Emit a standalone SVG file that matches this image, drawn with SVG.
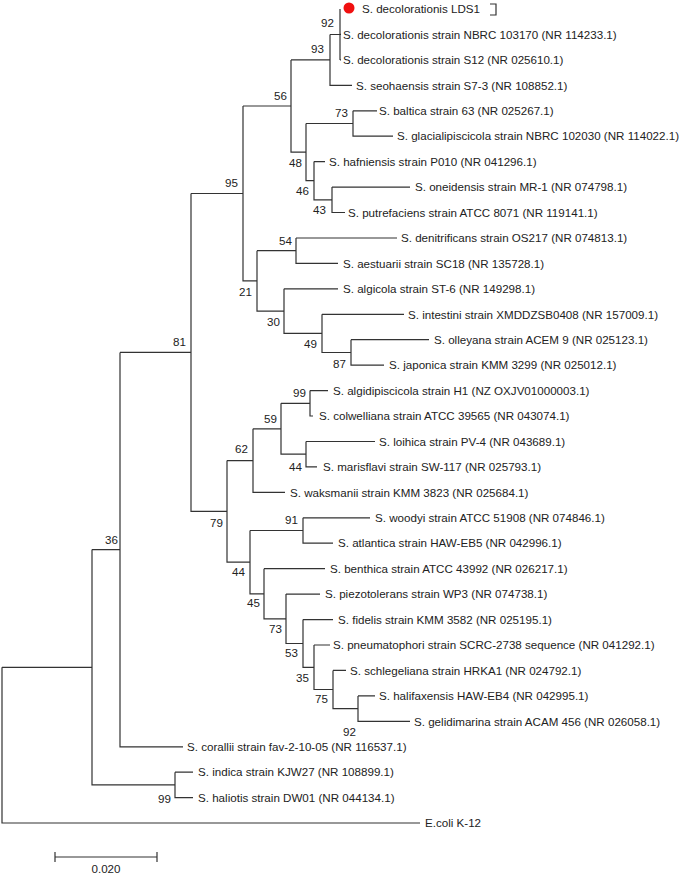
<svg xmlns="http://www.w3.org/2000/svg" width="684" height="875" viewBox="0 0 684 875">
<style>
.br{fill:none;stroke:#333;stroke-width:1.2}
text{font-family:"Liberation Sans",Arial,sans-serif;font-size:11.6px;fill:#222}
.bs{text-anchor:end}
</style>
<rect width="684" height="875" fill="#fff"/>
<g id="connectors">
<path class="br" d="M340,9 V59.9 M340,34.4 H341 M340,59.9 H341"/>
<path class="br" d="M330,34.5 V85.3 H352 M330,34.5 H340"/>
<path class="br" d="M353,110.8 V136.2 H393 M353,110.8 H377"/>
<path class="br" d="M332,187.1 V212.5 H345 M332,187.1 H410"/>
<path class="br" d="M314,161.6 V199.8 H332 M314,161.6 H325"/>
<path class="br" d="M306,123.5 V180.7 H314 M306,123.5 H353"/>
<path class="br" d="M291,59.9 V152.1 H306 M291,59.9 H330"/>
<path class="br" d="M296,238 V263.4 H338 M296,238 H397"/>
<path class="br" d="M351,339.7 V365.2 H384 M351,339.7 H429"/>
<path class="br" d="M322,314.3 V352.5 H351 M322,314.3 H404"/>
<path class="br" d="M284,288.8 V333.4 H322 M284,288.8 H338"/>
<path class="br" d="M257,250.7 V311.1 H284 M257,250.7 H296"/>
<path class="br" d="M243,106 V280.9 H257 M243,106 H291"/>
<path class="br" d="M310,390.6 V416 H313 M310,390.6 H328"/>
<path class="br" d="M306,441.5 V466.9 H317 M306,441.5 H375"/>
<path class="br" d="M281,403.3 V454.2 H306 M281,403.3 H310"/>
<path class="br" d="M253,428.8 V492.4 H285 M253,428.8 H281"/>
<path class="br" d="M303,517.8 V543.2 H333 M303,517.8 H370"/>
<path class="br" d="M358,695.9 V721.3 H410 M358,695.9 H375"/>
<path class="br" d="M333,670.4 V708.6 H358 M333,670.4 H346"/>
<path class="br" d="M314,645 V689.5 H333 M314,645 H330"/>
<path class="br" d="M303,619.6 V667.3 H314 M303,619.6 H333"/>
<path class="br" d="M286,594.1 V643.5 H303 M286,594.1 H320"/>
<path class="br" d="M264,568.7 V618.8 H286 M264,568.7 H325"/>
<path class="br" d="M250,530.5 V593.8 H264 M250,530.5 H303"/>
<path class="br" d="M227,460.6 V562.1 H250 M227,460.6 H253"/>
<path class="br" d="M191,193.5 V511.4 H227 M191,193.5 H243"/>
<path class="br" d="M120,352.4 V746.8 H183 M120,352.4 H191"/>
<path class="br" d="M175,772.2 V797.6 H193 M175,772.2 H193"/>
<path class="br" d="M92,549.6 V784.9 H175 M92,549.6 H120"/>
<path class="br" d="M2,667.3 V823 H420 M2,667.3 H92"/>
</g>
<g id="leaves">
<g id="leaf-LDS1"><circle cx="349" cy="8" r="5.5" fill="#f01010"/><text x="362" y="13">S. decolorationis LDS1</text><path class="br" d="M490,4 H496 V15 H490"/></g>
<g id="leaf-NBRC103170"><text x="343" y="38.6">S. decolorationis strain NBRC 103170 (NR 114233.1)</text></g>
<g id="leaf-S12"><text x="343" y="64.1">S. decolorationis strain S12 (NR 025610.1)</text></g>
<g id="leaf-seohaensis"><text x="356" y="89.5">S. seohaensis strain S7-3 (NR 108852.1)</text></g>
<g id="leaf-baltica"><text x="379" y="115">S. baltica strain 63 (NR 025267.1)</text></g>
<g id="leaf-glacialipiscicola"><text x="397" y="140.4">S. glacialipiscicola strain NBRC 102030 (NR 114022.1)</text></g>
<g id="leaf-hafniensis"><text x="329" y="165.8">S. hafniensis strain P010 (NR 041296.1)</text></g>
<g id="leaf-oneidensis"><text x="415" y="191.3">S. oneidensis strain MR-1 (NR 074798.1)</text></g>
<g id="leaf-putrefaciens"><text x="348" y="216.7">S. putrefaciens strain ATCC 8071 (NR 119141.1)</text></g>
<g id="leaf-denitrificans"><text x="401" y="242.2">S. denitrificans strain OS217 (NR 074813.1)</text></g>
<g id="leaf-aestuarii"><text x="343" y="267.6">S. aestuarii strain SC18 (NR 135728.1)</text></g>
<g id="leaf-algicola"><text x="343" y="293">S. algicola strain ST-6 (NR 149298.1)</text></g>
<g id="leaf-intestini"><text x="408" y="318.5">S. intestini strain XMDDZSB0408 (NR 157009.1)</text></g>
<g id="leaf-olleyana"><text x="434" y="343.9">S. olleyana strain ACEM 9 (NR 025123.1)</text></g>
<g id="leaf-japonica"><text x="389" y="369.4">S. japonica strain KMM 3299 (NR 025012.1)</text></g>
<g id="leaf-algidipiscicola"><text x="333" y="394.8">S. algidipiscicola strain H1 (NZ OXJV01000003.1)</text></g>
<g id="leaf-colwelliana"><text x="319" y="420.2">S. colwelliana strain ATCC 39565 (NR 043074.1)</text></g>
<g id="leaf-loihica"><text x="379" y="445.7">S. loihica strain PV-4 (NR 043689.1)</text></g>
<g id="leaf-marisflavi"><text x="323" y="471.1">S. marisflavi strain SW-117 (NR 025793.1)</text></g>
<g id="leaf-waksmanii"><text x="290" y="496.6">S. waksmanii strain KMM 3823 (NR 025684.1)</text></g>
<g id="leaf-woodyi"><text x="375" y="522">S. woodyi strain ATCC 51908 (NR 074846.1)</text></g>
<g id="leaf-atlantica"><text x="338" y="547.4">S. atlantica strain HAW-EB5 (NR 042996.1)</text></g>
<g id="leaf-benthica"><text x="330" y="572.9">S. benthica strain ATCC 43992 (NR 026217.1)</text></g>
<g id="leaf-piezotolerans"><text x="325" y="598.3">S. piezotolerans strain WP3 (NR 074738.1)</text></g>
<g id="leaf-fidelis"><text x="338" y="623.8">S. fidelis strain KMM 3582 (NR 025195.1)</text></g>
<g id="leaf-pneumatophori"><text x="333" y="649.2">S. pneumatophori strain SCRC-2738 sequence (NR 041292.1)</text></g>
<g id="leaf-schlegeliana"><text x="350" y="674.6">S. schlegeliana strain HRKA1 (NR 024792.1)</text></g>
<g id="leaf-halifaxensis"><text x="379" y="700.1">S. halifaxensis HAW-EB4 (NR 042995.1)</text></g>
<g id="leaf-gelidimarina"><text x="414" y="725.5">S. gelidimarina strain ACAM 456 (NR 026058.1)</text></g>
<g id="leaf-corallii"><text x="187" y="751">S. corallii strain fav-2-10-05 (NR 116537.1)</text></g>
<g id="leaf-indica"><text x="198" y="776.4">S. indica strain KJW27 (NR 108899.1)</text></g>
<g id="leaf-haliotis"><text x="198" y="801.8">S. haliotis strain DW01 (NR 044134.1)</text></g>
<g id="leaf-ecoli"><text x="425" y="827.2">E.coli K-12</text></g>
</g>
<g id="bootstrap">
<g id="n92a"><text class="bs" x="334" y="27">92</text></g>
<g id="n93"><text class="bs" x="324" y="53">93</text></g>
<g id="n56"><text class="bs" x="287" y="100">56</text></g>
<g id="n73a"><text class="bs" x="348" y="117">73</text></g>
<g id="n48"><text class="bs" x="302" y="167">48</text></g>
<g id="n46"><text class="bs" x="309" y="195">46</text></g>
<g id="n43"><text class="bs" x="326" y="214">43</text></g>
<g id="n95"><text class="bs" x="238" y="187">95</text></g>
<g id="n81"><text class="bs" x="186" y="346">81</text></g>
<g id="n54"><text class="bs" x="292" y="245">54</text></g>
<g id="n21"><text class="bs" x="252" y="296">21</text></g>
<g id="n30"><text class="bs" x="280" y="326">30</text></g>
<g id="n49"><text class="bs" x="317" y="348">49</text></g>
<g id="n87"><text class="bs" x="346" y="368">87</text></g>
<g id="n99a"><text class="bs" x="306" y="397">99</text></g>
<g id="n59"><text class="bs" x="277" y="423">59</text></g>
<g id="n62"><text class="bs" x="248" y="453">62</text></g>
<g id="n44a"><text class="bs" x="302" y="471">44</text></g>
<g id="n79"><text class="bs" x="223" y="527">79</text></g>
<g id="n91"><text class="bs" x="298" y="524">91</text></g>
<g id="n44b"><text class="bs" x="245" y="576">44</text></g>
<g id="n45"><text class="bs" x="260" y="607">45</text></g>
<g id="n73b"><text class="bs" x="282" y="633">73</text></g>
<g id="n53"><text class="bs" x="298" y="657">53</text></g>
<g id="n35"><text class="bs" x="309" y="682">35</text></g>
<g id="n75"><text class="bs" x="328" y="703">75</text></g>
<g id="n92b"><text class="bs" x="356" y="736">92</text></g>
<g id="n36"><text class="bs" x="118" y="544">36</text></g>
<g id="n99b"><text class="bs" x="171" y="803">99</text></g>
</g>
<g id="scale-bar">
<path class="br" d="M55,857 H157 M55,852 V862 M157,852 V862"/>
<text x="106" y="873" text-anchor="middle">0.020</text>
</g>
</svg>
